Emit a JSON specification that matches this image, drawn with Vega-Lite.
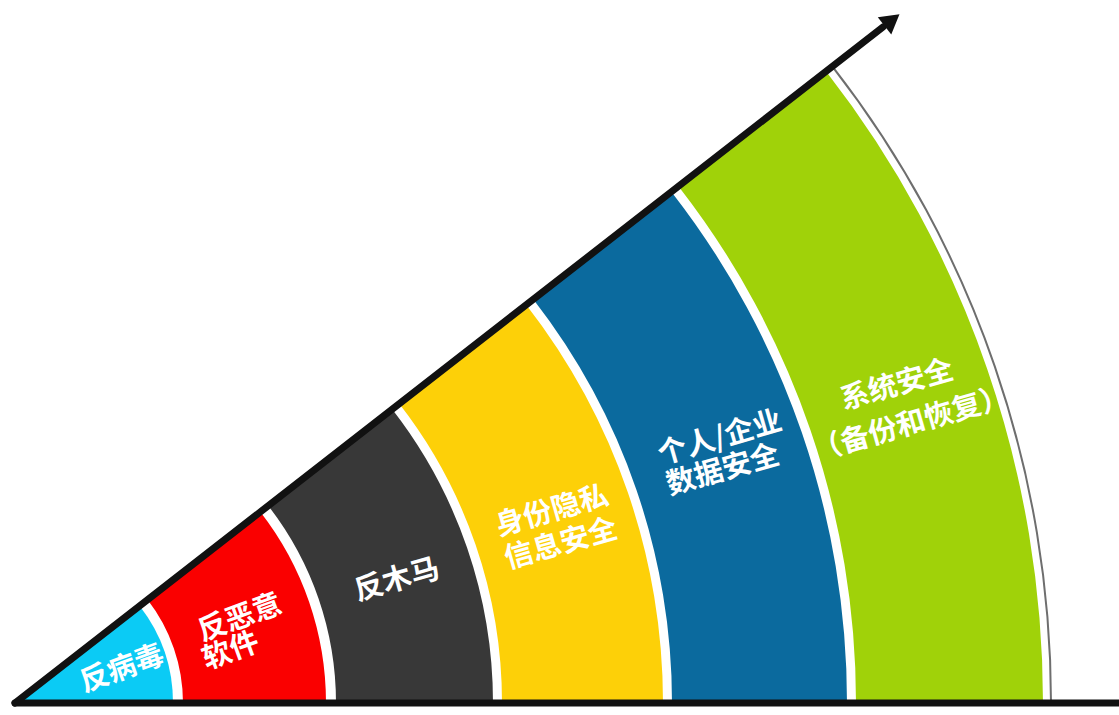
{
  "$schema": "https://vega.github.io/schema/vega-lite/v6.json",
  "width": 1119,
  "height": 715,
  "autosize": {"type": "none"},
  "padding": 0,
  "background": "white",
  "config": {"view": {"stroke": null}},
  "datasets": {
    "rings": [
      {"name": "反病毒", "r_in": 0, "r_out": 158},
      {"name": "反恶意软件", "r_in": 168, "r_out": 311},
      {"name": "反木马", "r_in": 321, "r_out": 478},
      {"name": "身份隐私信息安全", "r_in": 487, "r_out": 648},
      {"name": "个人/企业数据安全", "r_in": 657, "r_out": 832},
      {"name": "系统安全（备份和恢复）", "r_in": 841, "r_out": 1028}
    ],
    "border": [{"name": "edge", "r_in": 1035, "r_out": 1037}],
    "lines": [
      {"seg": "top", "x": 0, "y": 0},
      {"seg": "top", "x": 868, "y": 676},
      {"seg": "base", "x": 0, "y": 0},
      {"seg": "base", "x": 1104, "y": 0}
    ],
    "arrow": [{"x": 877, "y": 683}],
    "labels": [
      {"line": "反病毒", "x": 107, "y": 34, "grp": "a"},
      {"line": "反恶意", "x": 225, "y": 85, "grp": "a"},
      {"line": "软件", "x": 216, "y": 52, "grp": "a"},
      {"line": "反木马", "x": 382, "y": 123, "grp": "b"},
      {"line": "身份隐私", "x": 537, "y": 192, "grp": "b"},
      {"line": "信息安全", "x": 546, "y": 159, "grp": "b"},
      {"line": "个人/企业", "x": 705, "y": 265, "grp": "b"},
      {"line": "数据安全", "x": 708, "y": 233, "grp": "b"},
      {"line": "系统安全", "x": 882, "y": 318, "grp": "b"},
      {"line": "（备份和恢复）", "x": 896, "y": 279, "grp": "b"}
    ]
  },
  "layer": [
    {
      "data": {"name": "rings"},
      "mark": {"type": "arc", "theta": 0.9093, "theta2": 1.5708},
      "encoding": {
        "x": {"datum": 0, "type": "quantitative", "scale": {"domain": [-15, 1104], "nice": false, "zero": false}, "axis": null},
        "y": {"datum": 0, "type": "quantitative", "scale": {"domain": [-12, 703], "nice": false, "zero": false}, "axis": null},
        "radius": {"field": "r_out", "type": "quantitative", "scale": {"type": "linear", "domain": [0, 1000], "range": [0, 1000], "zero": true}},
        "radius2": {"field": "r_in"},
        "color": {
          "field": "name", "type": "nominal", "legend": null,
          "scale": {
            "domain": ["反病毒", "反恶意软件", "反木马", "身份隐私信息安全", "个人/企业数据安全", "系统安全（备份和恢复）", "edge"],
            "range": ["#0BCBF5", "#FA0000", "#383838", "#FDD008", "#0B6A9E", "#A0D209", "#6E6E6E"]
          }
        }
      }
    },
    {
      "data": {"name": "border"},
      "mark": {"type": "arc", "theta": 0.9093, "theta2": 1.5708},
      "encoding": {
        "x": {"datum": 0, "type": "quantitative", "scale": {"domain": [-15, 1104], "nice": false, "zero": false}, "axis": null},
        "y": {"datum": 0, "type": "quantitative", "scale": {"domain": [-12, 703], "nice": false, "zero": false}, "axis": null},
        "radius": {"field": "r_out", "type": "quantitative", "scale": {"type": "linear", "domain": [0, 1000], "range": [0, 1000], "zero": true}},
        "radius2": {"field": "r_in"},
        "color": {"field": "name", "type": "nominal", "legend": null}
      }
    },
    {
      "data": {"name": "lines"},
      "mark": {"type": "line", "color": "#111111", "strokeWidth": 7, "strokeCap": "round"},
      "encoding": {
        "x": {"field": "x", "type": "quantitative", "scale": {"domain": [-15, 1104], "nice": false, "zero": false}, "axis": null},
        "y": {"field": "y", "type": "quantitative", "scale": {"domain": [-12, 703], "nice": false, "zero": false}, "axis": null},
        "detail": {"field": "seg", "type": "nominal"}
      }
    },
    {
      "data": {"name": "arrow"},
      "mark": {"type": "point", "shape": "triangle-right", "filled": true, "color": "#111111", "size": 480, "angle": 322.1, "opacity": 1},
      "encoding": {
        "x": {"field": "x", "type": "quantitative", "scale": {"domain": [-15, 1104], "nice": false, "zero": false}, "axis": null},
        "y": {"field": "y", "type": "quantitative", "scale": {"domain": [-12, 703], "nice": false, "zero": false}, "axis": null}
      }
    },
    {
      "data": {"name": "labels"},
      "transform": [{"filter": "datum.grp === 'a'"}],
      "mark": {"type": "text", "color": "white", "font": "Noto Sans CJK SC", "fontWeight": "bold", "fontSize": 29, "angle": 340, "align": "center", "baseline": "middle"},
      "encoding": {
        "x": {"field": "x", "type": "quantitative", "scale": {"domain": [-15, 1104], "nice": false, "zero": false}, "axis": null},
        "y": {"field": "y", "type": "quantitative", "scale": {"domain": [-12, 703], "nice": false, "zero": false}, "axis": null},
        "text": {"field": "line"}
      }
    },
    {
      "data": {"name": "labels"},
      "transform": [{"filter": "datum.grp === 'b'"}],
      "mark": {"type": "text", "color": "white", "font": "Noto Sans CJK SC", "fontWeight": "bold", "fontSize": 29, "angle": 344, "align": "center", "baseline": "middle"},
      "encoding": {
        "x": {"field": "x", "type": "quantitative", "scale": {"domain": [-15, 1104], "nice": false, "zero": false}, "axis": null},
        "y": {"field": "y", "type": "quantitative", "scale": {"domain": [-12, 703], "nice": false, "zero": false}, "axis": null},
        "text": {"field": "line"}
      }
    }
  ]
}
